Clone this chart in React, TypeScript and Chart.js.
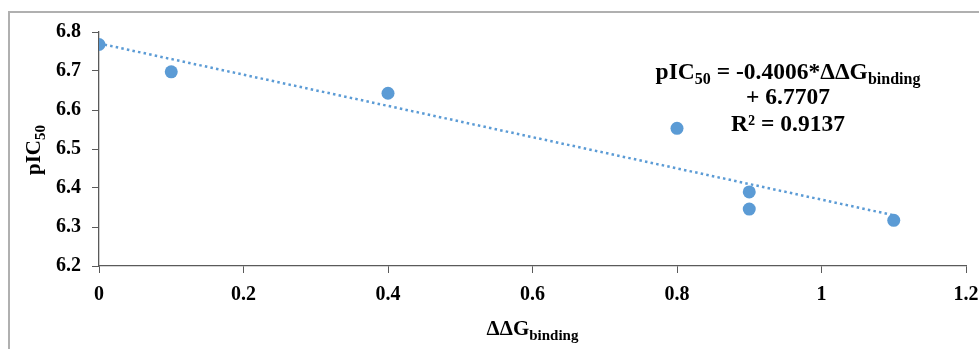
import React, { useEffect, useRef } from "react";
import { Chart, registerables } from "chart.js";

Chart.register(...registerables);

const xValues = [0, 0.1, 0.4, 0.8, 0.9, 0.9, 1.1];
const yValues = [6.768, 6.698, 6.643, 6.553, 6.39, 6.346, 6.317];
const trendX = [0, 1.1];
const trendY = [6.7707, 6.3301];
const xTicks = [0, 0.2, 0.4, 0.6, 0.8, 1, 1.2];
const yTicks = [6.2, 6.3, 6.4, 6.5, 6.6, 6.7, 6.8];
const eqLine1 = { main: "pIC", sub: "50", rest: " = -0.4006*ΔΔG", sub2: "binding" };
const eqLine2 = "+ 6.7707";
const eqLine3 = "R² = 0.9137";
const xTitle = { main: "ΔΔG", sub: "binding" };
const yTitle = { main: "pIC", sub: "50" };

const BLUE = "#5B9BD5";
const SERIF = "'Liberation Serif', 'Times New Roman', serif";
const CW = 1000;
const CH = 341;

const textPlugin = {
  id: "customText",
  afterDraw(chart: any) {
    const ctx = chart.ctx as CanvasRenderingContext2D;
    const area = chart.chartArea;
    ctx.save();
    ctx.fillStyle = "#000";
    ctx.textBaseline = "alphabetic";
    ctx.textAlign = "left";

    const big = `bold 23.5px ${SERIF}`;
    const small = `bold 16px ${SERIF}`;
    const segs: [string, string, number][] = [
      [eqLine1.main, big, 0],
      [eqLine1.sub, small, 5],
      [eqLine1.rest, big, 0],
      [eqLine1.sub2, small, 5],
    ];
    let total = 0;
    for (const [t, f] of segs) { ctx.font = f; total += ctx.measureText(t).width; }
    const cx = 780;
    let x = cx - total / 2;
    const base1 = 71;
    for (const [t, f, dy] of segs) {
      ctx.font = f; ctx.fillText(t, x, base1 + dy); x += ctx.measureText(t).width;
    }
    ctx.font = big;
    ctx.textAlign = "center";
    ctx.fillText(eqLine2, cx, base1 + 25);
    ctx.fillText(eqLine3, cx, base1 + 52);

    ctx.textAlign = "left";
    const xf = `bold 21px ${SERIF}`;
    const xs = `bold 15px ${SERIF}`;
    ctx.font = xf; const w1 = ctx.measureText(xTitle.main).width;
    ctx.font = xs; const w2 = ctx.measureText(xTitle.sub).width;
    const xStart = (area.left + area.right) / 2 - (w1 + w2) / 2;
    const xb = 327;
    ctx.font = xf; ctx.fillText(xTitle.main, xStart, xb);
    ctx.font = xs; ctx.fillText(xTitle.sub, xStart + w1, xb + 5);

    ctx.translate(32, 142);
    ctx.rotate(-Math.PI / 2);
    ctx.font = xf; const v1 = ctx.measureText(yTitle.main).width;
    ctx.font = xs; const v2 = ctx.measureText(yTitle.sub).width;
    const ys = -(v1 + v2) / 2;
    ctx.font = xf; ctx.fillText(yTitle.main, ys, 0);
    ctx.font = xs; ctx.fillText(yTitle.sub, ys + v1, 5);
    ctx.restore();
  },
};

export default function App() {
  const ref = useRef<HTMLCanvasElement>(null);
  useEffect(() => {
    if (!ref.current) return;
    const axisColor = "#5a5a5a";
    const tickFont = { family: SERIF, size: 20, weight: "bold" as const };
    const chart = new Chart(ref.current, {
      type: "scatter",
      data: {
        datasets: [
          {
            type: "line",
            data: trendX.map((v, i) => ({ x: v, y: trendY[i] })),
            borderColor: BLUE,
            borderWidth: 2.5,
            borderDash: [2.5, 3.2],
            pointRadius: 0,
            fill: false,
          } as any,
          {
            data: xValues.map((v, i) => ({ x: v, y: yValues[i] })),
            backgroundColor: BLUE,
            borderWidth: 0,
            pointRadius: 6.5,
          },
        ],
      },
      options: {
        animation: false,
        responsive: false,
        maintainAspectRatio: false,
        layout: { padding: { left: 0, right: CW - 958, top: 24, bottom: 0 } },
        plugins: { legend: { display: false }, tooltip: { enabled: false } },
        scales: {
          x: {
            type: "linear",
            min: 0,
            max: 1.2,
            afterBuildTicks: (s: any) => { s.ticks = xTicks.map((v) => ({ value: v })); },
            afterFit: (s: any) => { s.height = CH - 258; s.paddingLeft = 0; s.paddingRight = 0; },
            ticks: {
              color: "#000",
              font: tickFont,
              padding: 10,
              maxRotation: 0,
              callback: (v: any) => String(Number(Number(v).toFixed(1))),
            },
            grid: { display: true, drawOnChartArea: false, tickLength: 7, color: axisColor },
            border: { display: true, color: axisColor, width: 1.3 },
          },
          y: {
            type: "linear",
            min: 6.2,
            max: 6.8,
            afterBuildTicks: (s: any) => { s.ticks = yTicks.map((v) => ({ value: v })); },
            afterFit: (s: any) => { s.width = 91; s.paddingTop = 0; s.paddingBottom = 0; },
            ticks: {
              color: "#000",
              font: tickFont,
              padding: 11,
              callback: (v: any) => Number(v).toFixed(1),
            },
            grid: { display: true, drawOnChartArea: false, tickLength: 7, color: axisColor },
            border: { display: true, color: axisColor, width: 1.3 },
          },
        },
      },
      plugins: [textPlugin],
    } as any);
    return () => chart.destroy();
  }, []);

  return (
    <div style={{ position: "fixed", left: 8, top: 8, width: CW, height: CH, overflow: "hidden" }}>
      <canvas ref={ref} width={CW} height={CH} style={{ display: "block", width: CW, height: CH }} />
      <div
        style={{
          position: "absolute",
          left: 0,
          top: 3,
          width: 1200,
          height: 600,
          borderLeft: "2px solid #b0b0b0",
          borderTop: "2px solid #b0b0b0",
          pointerEvents: "none",
        }}
      />
    </div>
  );
}
